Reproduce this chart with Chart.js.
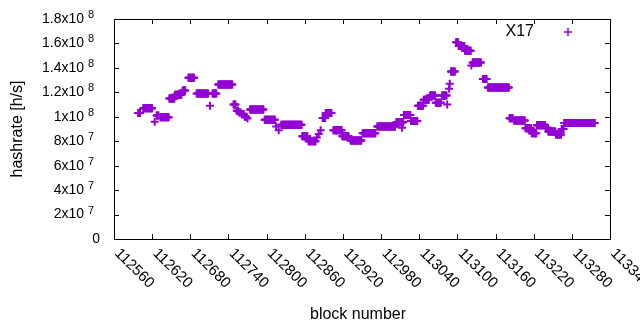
<!DOCTYPE html>
<html lang="en">
<head>
    <meta charset="UTF-8">
    <title>Hashrate by block</title>
    <script src="https://cdn.jsdelivr.net/npm/chart.js"></script>
    <style>
        html, body {
            margin: 0;
            padding: 0;
            background: white;
        }
        .chart-box {
            width: 640px;
            height: 330px;
        }
    </style>
</head>
<body>
    <div class="chart-box">
        <canvas id="hashChart"></canvas>
    </div>

    <script>
        // runs of blocks sharing one hashrate estimate (rate in 10^6 h/s)
        const runFrom = [112598, 112606, 112624, 112627, 112633, 112647, 112656, 112668, 112677, 112690,
                         112711, 112715, 112724, 112748, 112753, 112757, 112761, 112766, 112770, 112774,
                         112797, 112815, 112819, 112823, 112856, 112866, 112879, 112882, 112885, 112888,
                         112893, 112905, 112919, 112932, 112951, 112974, 113004, 113013, 113016, 113027,
                         113038, 113047, 113057, 113066, 113076, 113084, 113087, 113088, 113090, 113098,
                         113102, 113112, 113122, 113124, 113140, 113148, 113182, 113189, 113207, 113217,
                         113225, 113239, 113243, 113255, 113264, 113268];
        const runTo   = [112601, 112620, 112624, 112630, 112646, 112655, 112666, 112672, 112686, 112708,
                         112711, 112721, 112746, 112751, 112755, 112759, 112764, 112768, 112770, 112795,
                         112813, 112815, 112819, 112855, 112864, 112877, 112879, 112882, 112885, 112892,
                         112902, 112918, 112929, 112949, 112971, 113002, 113015, 113013, 113026, 113037,
                         113046, 113055, 113065, 113074, 113083, 113084, 113087, 113088, 113096, 113101,
                         113111, 113121, 113122, 113137, 113146, 113181, 113187, 113206, 113216, 113224,
                         113238, 113242, 113254, 113263, 113267, 113316];
        const runRate = [103, 107, 96, 101, 99.6, 115, 118, 121.5, 132, 119,
                         109, 119, 126.5, 110, 105, 103.5, 102, 100, 98.5, 106,
                         97.5, 92, 89, 93.5, 84, 80, 83, 86, 89, 99,
                         103, 89, 84, 80.5, 86.5, 92, 95.5, 91, 101.5, 96.5,
                         109, 114, 117.5, 111.5, 117.5, 110, 123, 127, 137, 161,
                         158, 154, 142, 144.5, 131, 124, 98.7, 97, 90.6, 86.5,
                         93, 91, 88, 85.5, 90, 95];

        const xTicks = [112560, 112620, 112680, 112740, 112800, 112860, 112920, 112980,
                        113040, 113100, 113160, 113220, 113280, 113340];
        const yTicks = [0, 20, 40, 60, 80, 100, 120, 140, 160, 180];
        const yTickBase = ['0', '2x10', '4x10', '6x10', '8x10', '1x10', '1.2x10', '1.4x10', '1.6x10', '1.8x10'];
        const yTickExp = ['', '7', '7', '7', '7', '8', '8', '8', '8', '8'];

        const purple = '#9400d3';

        const points = [];
        runFrom.forEach((from, i) => {
            for (let b = from; b <= runTo[i]; b++) {
                points.push({ x: b, y: runRate[i] });
            }
        });

        // gnuplot style frame, inward ticks, labels and key
        const gnuplotFrame = {
            id: 'gnuplotFrame',
            afterDraw(chart) {
                const ctx = chart.ctx;
                const area = chart.chartArea;
                const xs = chart.scales.x;
                const ys = chart.scales.y;
                const tick = 5;

                ctx.save();
                ctx.strokeStyle = '#000';
                ctx.lineWidth = 1;
                ctx.beginPath();
                xTicks.forEach(v => {
                    const px = Math.round(xs.getPixelForValue(v)) + 0.5;
                    ctx.moveTo(px, area.bottom);
                    ctx.lineTo(px, area.bottom - tick);
                    ctx.moveTo(px, area.top);
                    ctx.lineTo(px, area.top + tick);
                });
                yTicks.forEach(v => {
                    const py = Math.round(ys.getPixelForValue(v)) + 0.5;
                    ctx.moveTo(area.left, py);
                    ctx.lineTo(area.left + tick, py);
                    ctx.moveTo(area.right, py);
                    ctx.lineTo(area.right - tick, py);
                });
                ctx.stroke();
                ctx.strokeRect(Math.round(area.left) + 0.5, Math.round(area.top) + 0.5,
                               Math.round(area.right - area.left), Math.round(area.bottom - area.top));

                ctx.fillStyle = '#000';

                // y tick labels with superscript exponent
                yTicks.forEach((v, i) => {
                    const py = ys.getPixelForValue(v);
                    ctx.font = '14px "Liberation Sans", Arial, sans-serif';
                    ctx.textAlign = 'right';
                    ctx.textBaseline = 'middle';
                    if (yTickExp[i] === '') {
                        ctx.fillText(yTickBase[i], area.left - 14, py);
                    } else {
                        ctx.fillText(yTickBase[i], area.left - 30, py);
                        ctx.font = '11px "Liberation Sans", Arial, sans-serif';
                        ctx.textAlign = 'left';
                        ctx.fillText(yTickExp[i], area.left - 26, py - 4);
                    }
                });

                // x tick labels, rotated -45 degrees as in gnuplot
                ctx.font = '15px "Liberation Sans", Arial, sans-serif';
                ctx.textAlign = 'left';
                ctx.textBaseline = 'middle';
                xTicks.forEach(v => {
                    const px = xs.getPixelForValue(v);
                    ctx.save();
                    ctx.translate(px + 3, area.bottom + 12);
                    ctx.rotate(Math.PI / 4);
                    ctx.fillText(String(v), 0, 0);
                    ctx.restore();
                });

                // axis titles
                ctx.font = '16px "Liberation Sans", Arial, sans-serif';
                ctx.textAlign = 'center';
                ctx.textBaseline = 'middle';
                ctx.fillText('block number', (area.left + area.right) / 2 - 4, 315);
                ctx.save();
                ctx.translate(18, (area.top + area.bottom) / 2);
                ctx.rotate(-Math.PI / 2);
                ctx.fillText('hashrate [h/s]', 0, 0);
                ctx.restore();

                // key
                ctx.textAlign = 'right';
                ctx.fillText(chart.data.datasets[0].label, area.right - 76, area.top + 13);
                ctx.strokeStyle = purple;
                ctx.lineWidth = 1.5;
                const kx = area.right - 42;
                const ky = area.top + 13;
                ctx.beginPath();
                ctx.moveTo(kx - 4, ky);
                ctx.lineTo(kx + 4, ky);
                ctx.moveTo(kx, ky - 4);
                ctx.lineTo(kx, ky + 4);
                ctx.stroke();
                ctx.restore();
            }
        };

        new Chart(document.getElementById('hashChart'), {
            type: 'scatter',
            data: {
                datasets: [{
                    label: 'X17',
                    data: points,
                    pointStyle: 'cross',
                    pointRadius: 4,
                    borderWidth: 2,
                    borderColor: purple,
                    backgroundColor: purple
                }]
            },
            options: {
                responsive: true,
                maintainAspectRatio: false,
                animation: false,
                layout: {
                    padding: { left: 114, right: 30, top: 19, bottom: 91 }
                },
                plugins: {
                    legend: { display: false },
                    tooltip: { enabled: false }
                },
                scales: {
                    x: { type: 'linear', min: 112560, max: 113340, display: false },
                    y: { min: 0, max: 180, display: false }
                }
            },
            plugins: [gnuplotFrame]
        });
    </script>
</body>
</html>
